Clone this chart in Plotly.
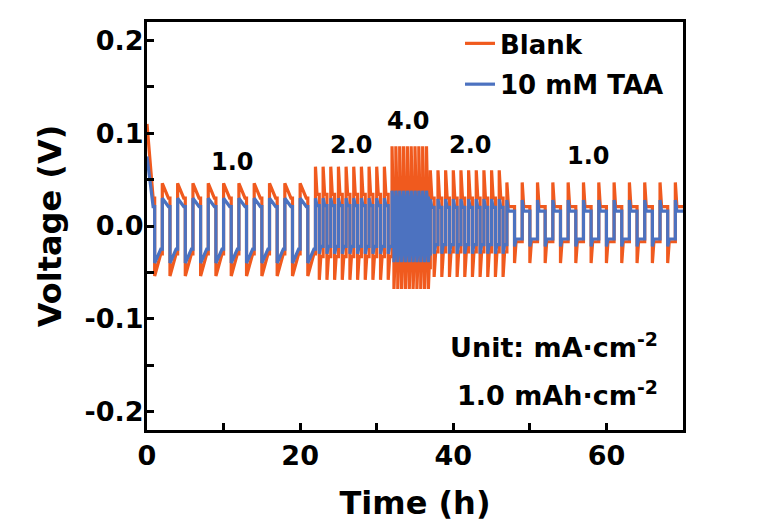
import plotly.graph_objects as go

# Galvanostatic cycling protocol (symmetric cells)
section_current = [1.0, 2.0, 4.0, 2.0, 1.0]      # mA cm^-2
section_start = [0.0, 22.0, 32.0, 37.0, 47.0]     # h
section_end = [22.0, 32.0, 37.0, 47.0, 70.0]      # h
areal_capacity = 1.0                               # mAh cm^-2
decay_frac = [0.8, 0.4, 0.4, 0.4, 0.2]             # share of a half cycle spent relaxing from the spike

# Blank electrolyte: per-section voltages (V)
blank_initial = 0.110
blank_peak_pos = [0.046, 0.064, 0.086, 0.060, 0.047]
blank_plat_pos = [0.030, 0.034, 0.045, 0.030, 0.021]
blank_peak_neg = [-0.054, -0.058, -0.068, -0.055, -0.040]
blank_plat_neg = [-0.030, -0.033, -0.045, -0.028, -0.017]

# 10 mM TAA electrolyte: per-section voltages (V)
taa_initial = 0.075
taa_peak_pos = [0.030, 0.030, 0.038, 0.029, 0.028]
taa_plat_pos = [0.021, 0.022, 0.030, 0.020, 0.016]
taa_peak_neg = [-0.040, -0.030, -0.039, -0.030, -0.022]
taa_plat_neg = [-0.025, -0.022, -0.030, -0.020, -0.014]

section_labels = ["1.0", "2.0", "4.0", "2.0", "1.0"]
label_time = [11.2, 26.7, 34.1, 42.2, 57.6]
label_volt = [0.069, 0.087, 0.113, 0.087, 0.076]

y_tick_vals = [-0.2, -0.1, 0.0, 0.1, 0.2]
y_tick_text = ["-0.2", "-0.1", "0.0", "0.1", "0.2"]

BLANK_COLOR = "#F05A1E"
TAA_COLOR = "#4C72C0"
FONT = "DejaVu Sans"


def voltage_profile(initial, peak_pos, plat_pos, peak_neg, plat_neg):
    """Piecewise voltage trace: a spike at each current reversal, then a plateau."""
    t, v = [], []
    first = True
    for k, current in enumerate(section_current):
        half = areal_capacity / current
        relax = decay_frac[k] * half
        tt = section_start[k]
        sign = 1
        while tt < section_end[k] - 1e-9:
            if sign > 0:
                pk, pl = peak_pos[k], plat_pos[k]
            else:
                pk, pl = peak_neg[k], plat_neg[k]
            if first:
                pk = initial
                first = False
            t_end = min(tt + half, section_end[k])
            t += [tt, tt + relax, t_end]
            v += [pk, pl, pl]
            tt += half
            sign = -sign
    return t, v


t_blank, v_blank = voltage_profile(blank_initial, blank_peak_pos, blank_plat_pos,
                                   blank_peak_neg, blank_plat_neg)
t_taa, v_taa = voltage_profile(taa_initial, taa_peak_pos, taa_plat_pos,
                               taa_peak_neg, taa_plat_neg)

fig = go.Figure()
fig.add_trace(go.Scatter(x=t_blank, y=v_blank, mode="lines", name="Blank",
                         legendgroup="a",
                         line=dict(color=BLANK_COLOR, width=3.2)))
fig.add_trace(go.Scatter(x=t_taa, y=v_taa, mode="lines", name="10 mM TAA",
                         legendgroup="b",
                         line=dict(color=TAA_COLOR, width=3.2)))

annotations = []
for lab, xt, yv in zip(section_labels, label_time, label_volt):
    annotations.append(dict(x=xt, y=yv, xref="x", yref="y", text=lab,
                            showarrow=False,
                            font=dict(family=FONT, size=24, color="black", weight="bold")))
annotations.append(dict(x=67.0, y=-0.129, xref="x", yref="y", xanchor="right",
                        text="Unit: mA·cm<sup>-2</sup>", showarrow=False,
                        font=dict(family=FONT, size=27, color="black", weight="bold")))
annotations.append(dict(x=67.0, y=-0.181, xref="x", yref="y", xanchor="right",
                        text="1.0 mAh·cm<sup>-2</sup>", showarrow=False,
                        font=dict(family=FONT, size=27, color="black", weight="bold")))

axis_common = dict(showline=True, linecolor="black", linewidth=3, mirror=True,
                   ticks="inside", ticklen=7, tickwidth=2.5, tickcolor="black",
                   showgrid=False, zeroline=False, automargin=False,
                   tickfont=dict(family=FONT, size=27, color="black", weight="bold"))

fig.update_layout(
    width=778, height=523,
    margin=dict(l=147, r=95, t=22, b=93),
    paper_bgcolor="white", plot_bgcolor="white",
    font=dict(family=FONT, color="black"),
    showlegend=True,
    legend=dict(x=0.584, y=1.005, xanchor="left", yanchor="top",
                bgcolor="rgba(0,0,0,0)", borderwidth=0,
                tracegroupgap=4, traceorder="grouped",
                font=dict(family=FONT, size=26, color="black", weight="bold")),
    annotations=annotations,
    xaxis=dict(range=[0, 70], dtick=20, tick0=0,
               minor=dict(dtick=10, tick0=0, ticks="inside", ticklen=7,
                          tickwidth=2.5, tickcolor="black"),
               title=dict(text="Time (h)", standoff=22,
                          font=dict(family=FONT, size=32, color="black", weight="bold")),
               **axis_common),
    yaxis=dict(range=[-0.22, 0.22], tickvals=y_tick_vals, ticktext=y_tick_text,
               ticklabelstandoff=-5,
               minor=dict(tickvals=[-0.15, -0.05, 0.05, 0.15], ticks="inside",
                          ticklen=7, tickwidth=2.5, tickcolor="black"),
               title=dict(text="Voltage (V)", standoff=14,
                          font=dict(family=FONT, size=32, color="black", weight="bold")),
               **axis_common),
)

fig.write_html("out.html")
